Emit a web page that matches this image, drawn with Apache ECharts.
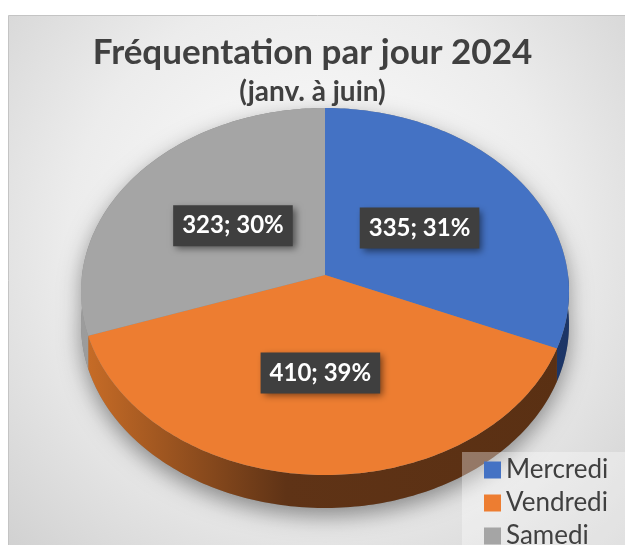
<!DOCTYPE html>
<html><head><meta charset="utf-8">
<script src="https://cdn.jsdelivr.net/npm/echarts@6/dist/echarts.min.js"></script>
<style>html,body{margin:0;padding:0;background:#fff}#c{width:625px;height:545px}</style>
</head><body><div id="c"></div>
<script>
const categories = ['Mercredi', 'Vendredi', 'Samedi'];
const values = [335, 410, 323];
const titleText = 'Fréquentation par jour 2024';
const subtitleText = '(janv. à juin)';

const colors = ['#4472C4', '#ED7D31', '#A5A5A5'];
const sideStops = [
  [{offset:0,color:'#2b4f93'},{offset:1,color:'#1c3566'}],
  [{offset:0,color:'#c96d27'},{offset:0.42,color:'#5f3316'},{offset:1,color:'#5a3013'}],
  [{offset:0,color:'#9c9c9c'},{offset:1,color:'#7c7c7c'}]
];

// geometry (layout only)
const CX = 325, CY = 275, RX = 243, RY = 182, P = 0.09, DEPTH = 33, LABEL_F = 0.49;

function percents(vals) {
  const total = vals.reduce((a, b) => a + b, 0);
  const raw = vals.map(v => v / total * 100);
  const fl = raw.map(Math.floor);
  const rem = 100 - fl.reduce((a, b) => a + b, 0);
  const order = raw.map((r, i) => [r - fl[i], i]).sort((a, b) => b[0] - a[0]);
  for (let k = 0; k < rem; k++) fl[order[k][1]]++;
  return fl;
}
const pct = percents(values);
const total = values.reduce((a, b) => a + b, 0);
const cum = [0];
values.forEach((v, i) => cum.push(cum[i] + v));

function proj(deg, f, dy) {
  const t = deg * Math.PI / 180;
  const c = Math.cos(t), s = 1 / (1 + P * c);
  return [CX + RX * Math.sin(t) * s * f, CY - RY * c * s * f + (dy || 0)];
}
function arc(a, b, dy) {
  const pts = [];
  const n = Math.max(2, Math.ceil(Math.abs(b - a)));
  for (let k = 0; k <= n; k++) pts.push(proj(a + (b - a) * k / n, 1, dy));
  return pts;
}

function renderItem(params, api) {
  const i = params.dataIndex;
  const v = api.value(0);
  const start = cum[i] / total * 360;
  const end = start + v / total * 360;
  const children = [];
  if (i === 0) {
    const pts = arc(90, 270, DEPTH).concat(arc(270, 450, 0));
    children.push({type: 'polygon', z2: 0, shape: {points: pts},
      style: {fill: '#888', shadowBlur: 22, shadowColor: 'rgba(0,0,0,0.42)', shadowOffsetY: 8}});
  }
  const a = Math.max(start, 90), b = Math.min(end, 270);
  if (a < b) {
    const pts = arc(a, b, 0).concat(arc(b, a, DEPTH));
    children.push({type: 'polygon', z2: 1, shape: {points: pts},
      style: {fill: new echarts.graphic.LinearGradient(CX - RX, 0, CX + RX, 0, sideStops[i], true)}});
  }
  const top = [[CX, CY]].concat(arc(start, end, 0));
  children.push({type: 'polygon', z2: 10, shape: {points: top}, style: {fill: colors[i]}});
  const mid = (start + end) / 2;
  const lp = proj(mid, LABEL_F, 0);
  children.push({type: 'text', z2: 100, x: lp[0], y: lp[1],
    style: {text: v + '; ' + pct[i] + '%', font: 'bold 24px Lato', fill: '#ffffff',
      align: 'center', verticalAlign: 'middle', backgroundColor: '#3f3f3f',
      padding: [9, 9, 8, 9], shadowBlur: 7, shadowColor: 'rgba(0,0,0,0.5)',
      shadowOffsetX: 3, shadowOffsetY: 3}});
  return {type: 'group', children: children};
}

const chart = echarts.init(document.getElementById('c'), null, {renderer: 'canvas'});
chart.setOption({
  animation: false,
  graphic: [{
    type: 'rect', z: -10, silent: true,
    shape: {x: 8.5, y: 15.5, width: 640, height: 560},
    style: {fill: new echarts.graphic.RadialGradient(0.48, 0.4, 0.8,
      [{offset: 0, color: '#ffffff'}, {offset: 0.55, color: '#ececec'}, {offset: 1, color: '#cfcfcf'}]),
      stroke: '#c4c4c4', lineWidth: 1}
  }],
  title: [
    {text: titleText, left: 'center', top: 30,
     textStyle: {fontFamily: 'Lato', fontWeight: 'bold', fontSize: 35, color: '#404040'}},
    {text: subtitleText, left: 'center', top: 73,
     textStyle: {fontFamily: 'Lato', fontWeight: 'bold', fontSize: 28, color: '#404040'}}
  ],
  legend: {
    orient: 'vertical', left: 462, top: 452, height: 140, itemWidth: 17, itemHeight: 17, itemGap: 7,
    icon: 'rect', selectedMode: false, padding: [5, 30, 20, 22],
    backgroundColor: 'rgba(255,255,255,0.35)',
    textStyle: {fontFamily: 'Lato', fontSize: 26, color: '#404040'},
    data: categories
  },
  series: [
    {type: 'custom', name: 'Fréquentation', coordinateSystem: 'none', renderItem: renderItem,
     data: values.map((v, i) => ({name: categories[i], value: [v]}))},
    {type: 'pie', name: 'legend', silent: true, radius: [0, 1], center: [-50, -50],
     label: {show: false}, labelLine: {show: false},
     data: categories.map((n, i) => ({name: n, value: values[i], itemStyle: {color: colors[i]}}))}
  ]
});
</script></body></html>
